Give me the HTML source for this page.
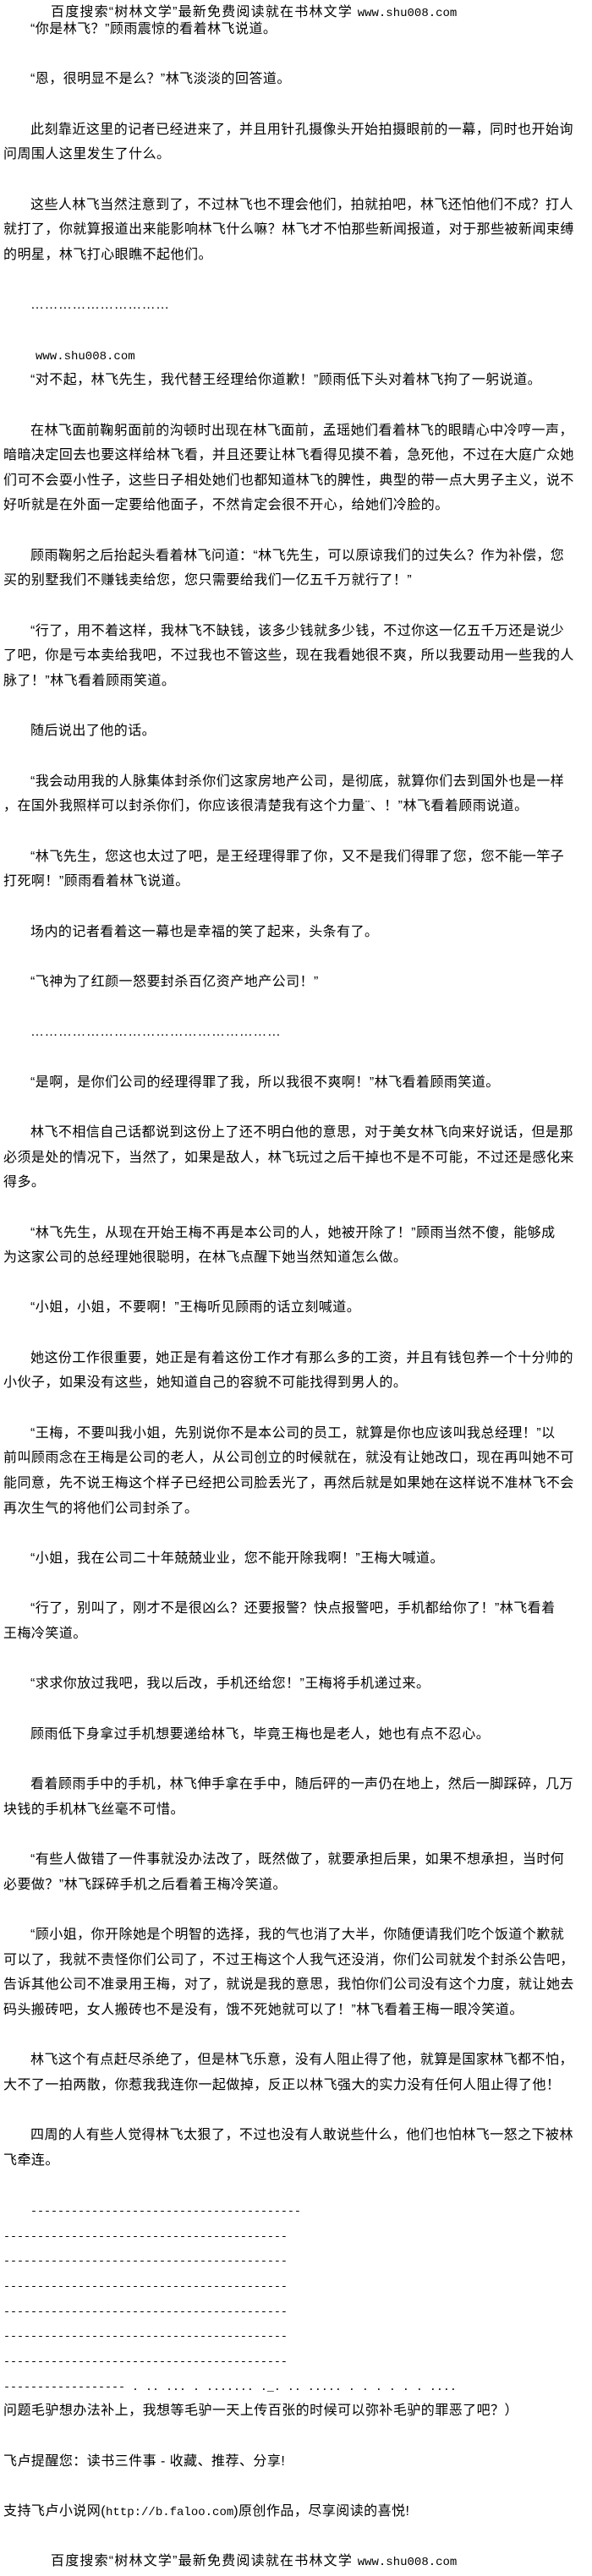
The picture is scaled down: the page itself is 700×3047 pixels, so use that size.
<!DOCTYPE html>
<html><head><meta charset="utf-8"><style>
html,body{margin:0;padding:0;background:#fff;}
body{width:700px;height:3044px;overflow:hidden;color:#000;font-family:"Liberation Sans","Noto Sans CJK SC",sans-serif;font-size:16px;}
.h{height:20px;line-height:30px;white-space:nowrap;padding-left:60px;letter-spacing:1.2px;}
.l{height:29.67px;line-height:29.67px;white-space:nowrap;padding-left:4px;letter-spacing:0.46px;}
.i{padding-left:36px;}
.m{font-family:"Liberation Mono",monospace;font-size:14px;letter-spacing:0;}
.d{font-family:"Liberation Mono",monospace;font-size:13.33px;letter-spacing:0;}
</style></head><body>
<div class="h">百度搜索“树林文学”最新免费阅读就在书林文学 <span class="m">www.shu008.com</span></div>
<div class="l i">“你是林飞？”顾雨震惊的看着林飞说道。</div>
<div class="l"></div>
<div class="l i">“恩，很明显不是么？”林飞淡淡的回答道。</div>
<div class="l"></div>
<div class="l i">此刻靠近这里的记者已经进来了，并且用针孔摄像头开始拍摄眼前的一幕，同时也开始询</div>
<div class="l">问周围人这里发生了什么。</div>
<div class="l"></div>
<div class="l i">这些人林飞当然注意到了，不过林飞也不理会他们，拍就拍吧，林飞还怕他们不成？打人</div>
<div class="l">就打了，你就算报道出来能影响林飞什么嘛？林飞才不怕那些新闻报道，对于那些被新闻束缚</div>
<div class="l">的明星，林飞打心眼瞧不起他们。</div>
<div class="l"></div>
<div class="l i">…………………………</div>
<div class="l"></div>
<div class="l i" style="padding-left:42px"><span class="m">www.shu008.com</span></div>
<div class="l i">“对不起，林飞先生，我代替王经理给你道歉！”顾雨低下头对着林飞拘了一躬说道。</div>
<div class="l"></div>
<div class="l i">在林飞面前鞠躬面前的沟顿时出现在林飞面前，孟瑶她们看着林飞的眼睛心中冷哼一声，</div>
<div class="l">暗暗决定回去也要这样给林飞看，并且还要让林飞看得见摸不着，急死他，不过在大庭广众她</div>
<div class="l">们可不会耍小性子，这些日子相处她们也都知道林飞的脾性，典型的带一点大男子主义，说不</div>
<div class="l">好听就是在外面一定要给他面子，不然肯定会很不开心，给她们冷脸的。</div>
<div class="l"></div>
<div class="l i">顾雨鞠躬之后抬起头看着林飞问道：“林飞先生，可以原谅我们的过失么？作为补偿，您</div>
<div class="l">买的别墅我们不赚钱卖给您，您只需要给我们一亿五千万就行了！”</div>
<div class="l"></div>
<div class="l i">“行了，用不着这样，我林飞不缺钱，该多少钱就多少钱，不过你这一亿五千万还是说少</div>
<div class="l">了吧，你是亏本卖给我吧，不过我也不管这些，现在我看她很不爽，所以我要动用一些我的人</div>
<div class="l">脉了！”林飞看着顾雨笑道。</div>
<div class="l"></div>
<div class="l i">随后说出了他的话。</div>
<div class="l"></div>
<div class="l i">“我会动用我的人脉集体封杀你们这家房地产公司，是彻底，就算你们去到国外也是一样</div>
<div class="l">，在国外我照样可以封杀你们，你应该很清楚我有这个力量¨、！”林飞看着顾雨说道。</div>
<div class="l"></div>
<div class="l i">“林飞先生，您这也太过了吧，是王经理得罪了你，又不是我们得罪了您，您不能一竿子</div>
<div class="l">打死啊！”顾雨看着林飞说道。</div>
<div class="l"></div>
<div class="l i">场内的记者看着这一幕也是幸福的笑了起来，头条有了。</div>
<div class="l"></div>
<div class="l i">“飞神为了红颜一怒要封杀百亿资产地产公司！”</div>
<div class="l"></div>
<div class="l i">………………………………………………</div>
<div class="l"></div>
<div class="l i">“是啊，是你们公司的经理得罪了我，所以我很不爽啊！”林飞看着顾雨笑道。</div>
<div class="l"></div>
<div class="l i">林飞不相信自己话都说到这份上了还不明白他的意思，对于美女林飞向来好说话，但是那</div>
<div class="l">必须是处的情况下，当然了，如果是敌人，林飞玩过之后干掉也不是不可能，不过还是感化来</div>
<div class="l">得多。</div>
<div class="l"></div>
<div class="l i">“林飞先生，从现在开始王梅不再是本公司的人，她被开除了！”顾雨当然不傻，能够成</div>
<div class="l">为这家公司的总经理她很聪明，在林飞点醒下她当然知道怎么做。</div>
<div class="l"></div>
<div class="l i">“小姐，小姐，不要啊！”王梅听见顾雨的话立刻喊道。</div>
<div class="l"></div>
<div class="l i">她这份工作很重要，她正是有着这份工作才有那么多的工资，并且有钱包养一个十分帅的</div>
<div class="l">小伙子，如果没有这些，她知道自己的容貌不可能找得到男人的。</div>
<div class="l"></div>
<div class="l i">“王梅，不要叫我小姐，先别说你不是本公司的员工，就算是你也应该叫我总经理！”以</div>
<div class="l">前叫顾雨念在王梅是公司的老人，从公司创立的时候就在，就没有让她改口，现在再叫她不可</div>
<div class="l">能同意，先不说王梅这个样子已经把公司脸丢光了，再然后就是如果她在这样说不准林飞不会</div>
<div class="l">再次生气的将他们公司封杀了。</div>
<div class="l"></div>
<div class="l i">“小姐，我在公司二十年兢兢业业，您不能开除我啊！”王梅大喊道。</div>
<div class="l"></div>
<div class="l i">“行了，别叫了，刚才不是很凶么？还要报警？快点报警吧，手机都给你了！”林飞看着</div>
<div class="l">王梅冷笑道。</div>
<div class="l"></div>
<div class="l i">“求求你放过我吧，我以后改，手机还给您！”王梅将手机递过来。</div>
<div class="l"></div>
<div class="l i">顾雨低下身拿过手机想要递给林飞，毕竟王梅也是老人，她也有点不忍心。</div>
<div class="l"></div>
<div class="l i">看着顾雨手中的手机，林飞伸手拿在手中，随后砰的一声仍在地上，然后一脚踩碎，几万</div>
<div class="l">块钱的手机林飞丝毫不可惜。</div>
<div class="l"></div>
<div class="l i">“有些人做错了一件事就没办法改了，既然做了，就要承担后果，如果不想承担，当时何</div>
<div class="l">必要做？”林飞踩碎手机之后看着王梅冷笑道。</div>
<div class="l"></div>
<div class="l i">“顾小姐，你开除她是个明智的选择，我的气也消了大半，你随便请我们吃个饭道个歉就</div>
<div class="l">可以了，我就不责怪你们公司了，不过王梅这个人我气还没消，你们公司就发个封杀公告吧，</div>
<div class="l">告诉其他公司不准录用王梅，对了，就说是我的意思，我怕你们公司没有这个力度，就让她去</div>
<div class="l">码头搬砖吧，女人搬砖也不是没有，饿不死她就可以了！”林飞看着王梅一眼冷笑道。</div>
<div class="l"></div>
<div class="l i">林飞这个有点赶尽杀绝了，但是林飞乐意，没有人阻止得了他，就算是国家林飞都不怕，</div>
<div class="l">大不了一拍两散，你惹我我连你一起做掉，反正以林飞强大的实力没有任何人阻止得了他！</div>
<div class="l"></div>
<div class="l i">四周的人有些人觉得林飞太狠了，不过也没有人敢说些什么，他们也怕林飞一怒之下被林</div>
<div class="l">飞牵连。</div>
<div class="l"></div>
<div class="l i"><span class="d">----------------------------------------</span></div>
<div class="l"><span class="d">------------------------------------------</span></div>
<div class="l"><span class="d">------------------------------------------</span></div>
<div class="l"><span class="d">------------------------------------------</span></div>
<div class="l"><span class="d">------------------------------------------</span></div>
<div class="l"><span class="d">------------------------------------------</span></div>
<div class="l"><span class="d">------------------------------------------</span></div>
<div class="l"><span class="d">------------------ . ..   ...     . .......    ._. .. .....   . .    . . . . ....</span></div>
<div class="l">问题毛驴想办法补上，我想等毛驴一天上传百张的时候可以弥补毛驴的罪恶了吧？）</div>
<div class="l"></div>
<div class="l">飞卢提醒您：读书三件事 - 收藏、推荐、分享!</div>
<div class="l"></div>
<div class="l">支持飞卢小说网(<span class="m">http://b.faloo.com</span>)原创作品，尽享阅读的喜悦!</div>
<div class="l"></div>
<div class="l" style="padding-left:60px;letter-spacing:1.2px">百度搜索“树林文学”最新免费阅读就在书林文学 <span class="m">www.shu008.com</span></div>
</body></html>
